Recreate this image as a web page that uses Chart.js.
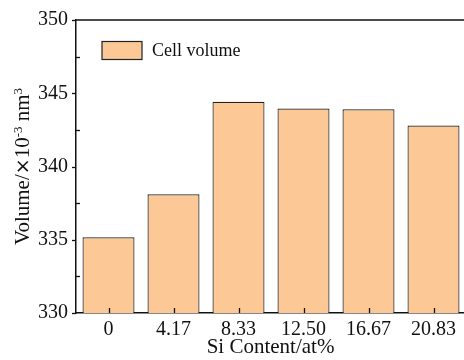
<!DOCTYPE html>
<html>
<head>
<meta charset="utf-8">
<script src="https://cdn.jsdelivr.net/npm/chart.js@4/dist/chart.umd.min.js"></script>
<style>
  html, body { margin: 0; padding: 0; background: #fff; overflow: hidden; }
  #wrap { width: 470px; height: 360px; }
</style>
</head>
<body>
<div id="wrap"><canvas id="volumeChart"></canvas></div>
<script>
// data
const siContent = ["0", "4.17", "8.33", "12.50", "16.67", "20.83"];
const cellVolume = [335.17, 338.1, 344.42, 343.96, 343.9, 342.8];
const yTicks = [330, 335, 340, 345, 350];
const yMinorTicks = [332.5, 337.5, 342.5, 347.5];

const serif = "'Liberation Serif', 'Times New Roman', serif";
const axisColor = "#111";

// top line, tick marks, axis titles and legend drawn on top
const decorPlugin = {
    id: "decor",
    afterDraw(chart) {
        const ctx = chart.ctx;
        const area = chart.chartArea;
        const x = chart.scales.x;
        const y = chart.scales.y;
        ctx.save();
        ctx.strokeStyle = axisColor;
        ctx.lineWidth = 1.5;

        // top frame line
        ctx.beginPath();
        ctx.moveTo(area.left, area.top);
        ctx.lineTo(chart.width, area.top);
        ctx.stroke();

        ctx.lineWidth = 1.3;
        // y major ticks, outward
        yTicks.forEach(v => {
            const py = Math.round(y.getPixelForValue(v)) + 0.5;
            ctx.beginPath();
            ctx.moveTo(area.left - 4, py);
            ctx.lineTo(area.left, py);
            ctx.stroke();
        });
        // y minor ticks, inward
        yMinorTicks.forEach(v => {
            const py = Math.round(y.getPixelForValue(v)) + 0.5;
            ctx.beginPath();
            ctx.moveTo(area.left, py);
            ctx.lineTo(area.left + 4, py);
            ctx.stroke();
        });
        // x ticks, inward
        siContent.forEach((c, i) => {
            const px = Math.round(x.getPixelForValue(i)) + 0.5;
            ctx.beginPath();
            ctx.moveTo(px, area.bottom);
            ctx.lineTo(px, area.bottom - 5);
            ctx.stroke();
        });

        // x title
        ctx.fillStyle = "#111";
        ctx.font = "21px " + serif;
        ctx.textAlign = "center";
        ctx.textBaseline = "middle";
        ctx.fillText("Si Content/at%", (area.left + 465) / 2, 347);

        // y title with superscripts
        const big = "21px " + serif;
        const small = "13px " + serif;
        const cross = "19px 'DejaVu Sans', sans-serif";
        const parts = [
            ["Volume/", big, 7],
            ["\u00D7", cross, 7],
            ["10", big, 7],
            ["-3", small, 0],
            [" nm", big, 7],
            ["3", small, 0]
        ];
        let total = 0;
        parts.forEach(p => {
            ctx.font = p[1];
            total += ctx.measureText(p[0]).width;
        });
        ctx.translate(22, (area.top + area.bottom) / 2);
        ctx.rotate(-Math.PI / 2);
        ctx.textAlign = "left";
        ctx.textBaseline = "alphabetic";
        let cx = -total / 2;
        parts.forEach(p => {
            ctx.font = p[1];
            ctx.fillText(p[0], cx, p[2]);
            cx += ctx.measureText(p[0]).width;
        });
        ctx.setTransform(1, 0, 0, 1, 0, 0);

        // legend
        const ds = chart.data.datasets[0];
        ctx.fillStyle = ds.backgroundColor;
        ctx.strokeStyle = ds.borderColor;
        ctx.lineWidth = 1.2;
        ctx.fillRect(102, 41.5, 40, 18);
        ctx.strokeRect(102, 41.5, 40, 18);
        ctx.fillStyle = "#111";
        ctx.font = "18px " + serif;
        ctx.textAlign = "left";
        ctx.textBaseline = "middle";
        ctx.fillText(ds.label, 152, 51);
        ctx.restore();
    }
};

const volumeData = {
    labels: siContent,
    datasets: [{
        label: "Cell volume",
        data: cellVolume,
        backgroundColor: "#FCC996",
        borderColor: "#222",
        borderWidth: 1.2,
        borderSkipped: false,
        barPercentage: 0.8,
        categoryPercentage: 1.0
    }]
};

const volumeConfig = {
    type: "bar",
    data: volumeData,
    options: {
        responsive: true,
        maintainAspectRatio: false,
        animation: false,
        layout: { padding: { top: 19, right: 4, left: 0, bottom: 0 } },
        plugins: {
            legend: { display: false },
            tooltip: { enabled: false }
        },
        scales: {
            x: {
                grid: { display: false, drawTicks: false },
                border: { display: true, color: axisColor, width: 1.5 },
                ticks: {
                    color: "#111",
                    font: { family: serif, size: 20 },
                    padding: 5,
                    maxRotation: 0
                },
                afterFit: s => { s.height = 47; }
            },
            y: {
                min: 330,
                max: 350,
                grid: { display: false, drawTicks: false },
                border: { display: true, color: axisColor, width: 1.5 },
                ticks: {
                    stepSize: 5,
                    color: "#111",
                    font: { family: serif, size: 20 },
                    padding: 8
                },
                afterFit: s => { s.width = 76; }
            }
        }
    },
    plugins: [decorPlugin]
};

let volumeChart = new Chart(document.getElementById("volumeChart"), volumeConfig);
</script>
</body>
</html>
